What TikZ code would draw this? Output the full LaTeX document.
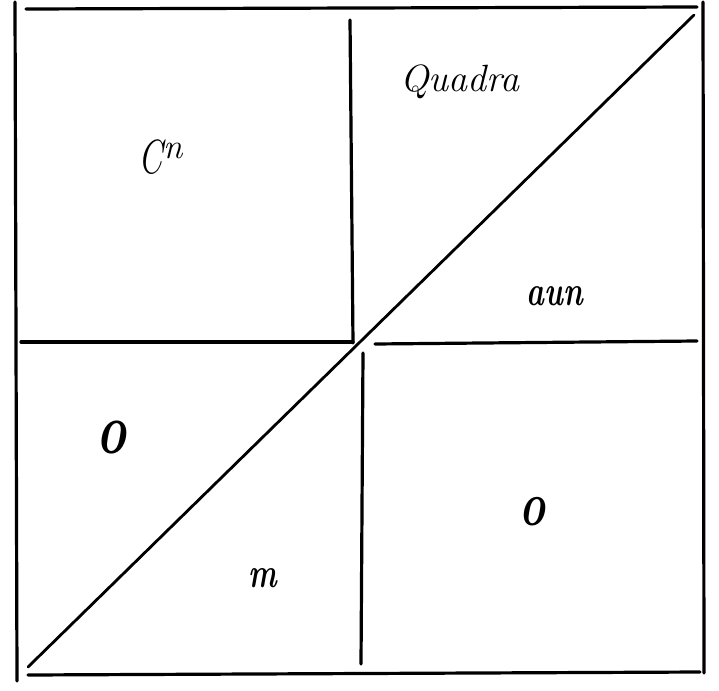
\documentclass[tikz,border=0pt]{standalone}
\usepackage{fontspec}
\usepackage{graphicx}
\begin{document}
\begin{tikzpicture}[x=1pt,y=-1pt,
  rule/.style={line width=3.2pt,line cap=round},
  diag/.style={line width=2.8pt,line cap=round},
  lbl/.style={inner sep=0pt,font=\fontsize{38}{42}\selectfont\itshape},
  blbl/.style={inner sep=0pt,font=\fontsize{42}{46}\selectfont\bfseries\itshape,xscale=0.72,transform shape},
  olbl/.style={inner sep=0pt,font=\fontsize{60}{64}\selectfont\bfseries\itshape,xscale=0.85,yscale=1.2,transform shape}]
\useasboundingbox (0,0) rectangle (719,690);
% outer frame
\coordinate (tl) at (15,2);
\coordinate (bl) at (17,681);
\coordinate (tr) at (703,2);
\coordinate (br) at (704,673);
\draw[rule] (tl) -- (bl);
\draw[rule] (tr) -- (br);
\draw[rule] (26,9) -- (697,7);
\draw[rule] (28,675) -- (700,672);
% inner divisions
\draw[rule] (350,20) -- (353,343);
\draw[rule] (21,342) -- (353,342);
\draw[rule] (375,344) -- (697,341);
\draw[rule] (363,353) -- (361,664);
% diagonal
\coordinate (d1) at (28,667);
\coordinate (d2) at (694,15);
\draw[diag] (d1) -- (d2);
% labels
\node[inner sep=0pt,anchor=base west] (cn) at (138,173)
  {\fontsize{48}{52}\selectfont\itshape\scalebox{0.72}[1]{C}\kern1pt\raisebox{15pt}{\fontsize{35}{38}\selectfont\itshape n}};
\node[lbl,anchor=base] (quadra) at (460,92) {Quadra};
\node[blbl,anchor=base] (aun) at (555,305) {aun};
\node[olbl,anchor=base] (o1) at (112,453) {o};
\node[blbl,anchor=base] (m) at (263,587) {m};
\node[olbl,anchor=base,font=\fontsize{52}{56}\selectfont\bfseries\itshape] (o2) at (533,525) {o};
\end{tikzpicture}
\end{document}
